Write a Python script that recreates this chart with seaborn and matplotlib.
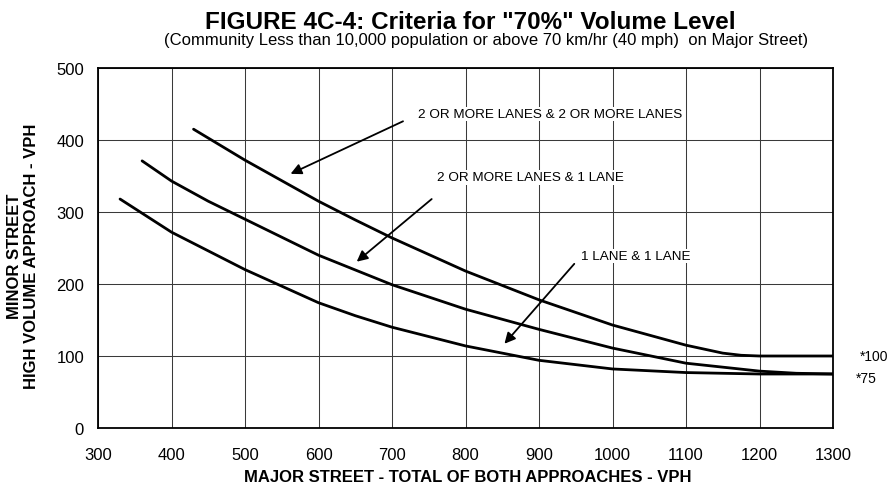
import matplotlib
matplotlib.use("Agg")
import matplotlib.pyplot as plt
import seaborn as sns
import pandas as pd

# Data
x_2plus_2plus = [430, 500, 600, 650, 700, 800, 900, 1000, 1100, 1150, 1175, 1200, 1300]
y_2plus_2plus = [415, 372, 315, 289, 264, 218, 178, 143, 115, 104, 101, 100, 100]

x_2plus_1 = [360, 400, 450, 500, 600, 700, 800, 900, 1000, 1100, 1200, 1250, 1300]
y_2plus_1 = [371, 343, 315, 290, 240, 199, 165, 137, 111, 90, 79, 76, 75]

x_1_1 = [330, 400, 500, 600, 650, 700, 800, 900, 1000, 1100, 1200, 1300]
y_1_1 = [318, 272, 220, 174, 156, 140, 114, 94, 82, 77, 75, 75]

x_ticks = [300, 400, 500, 600, 700, 800, 900, 1000, 1100, 1200, 1300]
y_ticks = [0, 100, 200, 300, 400, 500]

labels = ["2 OR MORE LANES & 2 OR MORE LANES", "2 OR MORE LANES & 1 LANE", "1 LANE & 1 LANE"]

sns.set_style("white")
plt.rcParams['font.family'] = ['Liberation Sans', 'DejaVu Sans']
plt.rcParams['text.color'] = 'black'
plt.rcParams['axes.labelcolor'] = 'black'
plt.rcParams['xtick.color'] = 'black'
plt.rcParams['ytick.color'] = 'black'

fig = plt.figure(figsize=(8.96, 4.85), dpi=100)
ax = fig.add_axes([98 / 896, 1 - 429 / 485, 735 / 896, 360 / 485])

frames = []
for name, xs, ys in [(labels[0], x_2plus_2plus, y_2plus_2plus),
                     (labels[1], x_2plus_1, y_2plus_1),
                     (labels[2], x_1_1, y_1_1)]:
    frames.append(pd.DataFrame({"major": xs, "minor": ys, "curve": name}))
df = pd.concat(frames, ignore_index=True)

for name in labels:
    sub = df[df["curve"] == name]
    sns.lineplot(data=sub, x="major", y="minor", ax=ax, color="black",
                 linewidth=2.0, sort=False, estimator=None, zorder=3)

ax.set_xlim(300, 1300)
ax.set_ylim(0, 500)
ax.set_xticks(x_ticks)
ax.set_yticks(y_ticks)
ax.grid(True, color="#3a3a3a", linewidth=0.75)
ax.set_axisbelow(True)
for s in ax.spines.values():
    s.set_color("black")
    s.set_linewidth(1.3)
ax.tick_params(axis="both", length=0, labelsize=12)
ax.tick_params(axis="x", pad=14)
ax.tick_params(axis="y", pad=10)

ax.set_xlabel("MAJOR STREET - TOTAL OF BOTH APPROACHES - VPH",
              fontsize=12, fontweight="bold")
ax.xaxis.label.set_va("baseline")
ax.xaxis.set_label_coords(0.503, -0.147)
ax.set_ylabel("MINOR STREET\nHIGH VOLUME APPROACH - VPH",
              fontsize=12, fontweight="bold", linespacing=1.2)
ax.yaxis.label.set_va("center")
ax.yaxis.label.set_ha("center")
ax.yaxis.set_label_coords(-0.102, 0.48)

fig.text(470 / 896, 1 - 29 / 485, 'FIGURE 4C-4: Criteria for "70%" Volume Level',
         ha="center", va="baseline", fontsize=17.5, fontweight="bold")
fig.text(486 / 896, 1 - 45 / 485,
         "(Community Less than 10,000 population or above 70 km/hr (40 mph)  on Major Street)",
         ha="center", va="baseline", fontsize=12)

bbox = dict(facecolor="white", edgecolor="none", pad=1)
ann = [
    (labels[0], (735, 436), (562, 353), (715, 426)),
    (labels[1], (761, 348), (652, 231), (754, 318)),
    (labels[2], (957, 239), (853, 117), (948, 228)),
]
for txt, tpos, head, tail in ann:
    ax.text(tpos[0], tpos[1], txt, fontsize=9.7, ha="left", va="center",
            bbox=bbox, zorder=4)
    ax.annotate("", xy=head, xytext=tail,
                arrowprops=dict(arrowstyle="-|>", color="black", lw=1.3,
                                mutation_scale=16, shrinkA=0, shrinkB=0),
                zorder=4)

ax.text(1336, 100, "*100", fontsize=10, ha="left", va="center", clip_on=False)
ax.text(1331, 69, "*75", fontsize=10, ha="left", va="center", clip_on=False)

fig.savefig("out.png", dpi=100)
